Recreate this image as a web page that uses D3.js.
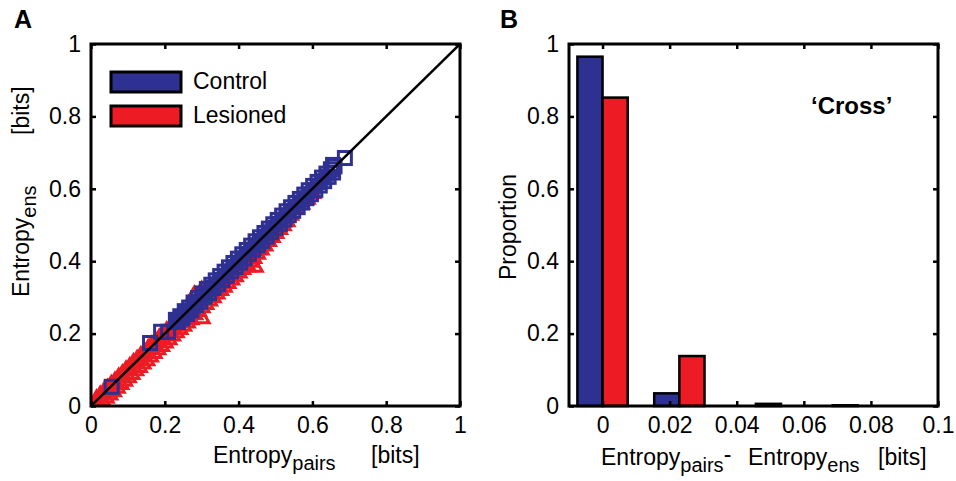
<!DOCTYPE html>
<html><head><meta charset="utf-8">
<script src="https://cdn.jsdelivr.net/npm/d3@7"></script>
<style>
body{margin:0;background:#fff;}
svg{display:block;}
text{font-family:"Liberation Sans",Arial,sans-serif;fill:#000;}
</style></head><body>
<svg id="chart" width="956" height="481"></svg>
<script>
// ---------- DATA ----------
const seriesNames = ["Control", "Lesioned"];
const seriesColors = ["#2e3192", "#ed1c24"];

// Panel A: [Entropy_pairs, Entropy_ens] per recording
const controlPoints = [
 [0.056,0.053],[0.160,0.174],[0.190,0.205],[0.209,0.205],
 [0.230,0.238],[0.236,0.232],[0.242,0.248],[0.248,0.242],[0.254,0.262],[0.260,0.254],[0.266,0.272],[0.272,0.264],
 [0.278,0.286],[0.284,0.278],[0.290,0.298],[0.296,0.288],[0.302,0.311],[0.308,0.302],[0.314,0.323],[0.320,0.312],
 [0.326,0.335],[0.332,0.326],[0.338,0.347],[0.344,0.336],[0.350,0.359],[0.356,0.348],[0.362,0.371],[0.368,0.360],
 [0.374,0.383],[0.380,0.372],[0.386,0.395],[0.392,0.384],[0.398,0.407],[0.404,0.396],[0.410,0.419],[0.416,0.408],
 [0.422,0.431],[0.428,0.420],[0.434,0.443],[0.440,0.432],[0.446,0.455],[0.452,0.444],[0.458,0.466],[0.464,0.456],
 [0.470,0.478],[0.476,0.468],[0.482,0.490],[0.488,0.480],[0.494,0.502],[0.500,0.492],[0.506,0.514],[0.512,0.503],
 [0.518,0.526],[0.524,0.515],[0.530,0.538],[0.536,0.527],[0.542,0.549],[0.548,0.539],[0.554,0.561],[0.560,0.550],
 [0.566,0.572],[0.572,0.562],[0.578,0.584],[0.584,0.574],[0.590,0.596],[0.596,0.585],[0.602,0.608],[0.608,0.597],
 [0.614,0.619],[0.620,0.609],[0.626,0.631],[0.632,0.621],[0.638,0.642],[0.644,0.633],[0.650,0.654],[0.656,0.645],
 [0.660,0.662],[0.656,0.666],[0.688,0.685]
];
const lesionedPoints = [
 [0.015,0.018],[0.020,0.008],[0.025,0.028],[0.030,0.014],[0.035,0.038],[0.040,0.022],[0.045,0.047],[0.050,0.031],
 [0.055,0.058],[0.060,0.040],[0.065,0.067],[0.070,0.050],[0.075,0.078],[0.080,0.060],[0.085,0.087],[0.090,0.069],
 [0.095,0.098],[0.100,0.079],[0.105,0.107],[0.110,0.088],[0.115,0.118],[0.120,0.098],[0.125,0.127],[0.130,0.107],
 [0.135,0.137],[0.140,0.117],[0.145,0.147],[0.150,0.126],[0.155,0.157],[0.160,0.136],[0.165,0.167],[0.170,0.146],
 [0.175,0.177],[0.180,0.156],[0.185,0.186],[0.190,0.165],[0.195,0.196],[0.200,0.175],[0.205,0.206],[0.210,0.184],
 [0.215,0.215],[0.220,0.194],[0.225,0.225],[0.230,0.203],[0.235,0.234],[0.240,0.212],[0.245,0.243],[0.250,0.221],
 [0.255,0.250],[0.260,0.230],[0.265,0.262],[0.270,0.239],[0.280,0.305],[0.300,0.318],
 [0.275,0.265],[0.280,0.253],[0.285,0.275],[0.290,0.262],[0.295,0.285],[0.300,0.272],[0.305,0.295],[0.310,0.281],
 [0.315,0.305],[0.320,0.291],[0.325,0.315],[0.330,0.300],[0.335,0.325],[0.340,0.310],[0.345,0.335],[0.350,0.320],
 [0.355,0.345],[0.360,0.329],[0.365,0.355],[0.370,0.339],[0.375,0.365],[0.380,0.349],[0.385,0.375],[0.390,0.358],
 [0.395,0.385],[0.400,0.368],[0.405,0.395],[0.410,0.378],[0.415,0.405],[0.420,0.388],[0.425,0.415],[0.430,0.398],
 [0.435,0.425],[0.440,0.408],[0.445,0.435],[0.450,0.420],[0.455,0.445],[0.460,0.432],[0.465,0.455],[0.470,0.443],
 [0.475,0.465],[0.480,0.455],[0.485,0.475],[0.490,0.466],[0.495,0.485],[0.500,0.477],[0.505,0.495],[0.510,0.488],
 [0.515,0.505],[0.520,0.499],[0.525,0.515],[0.530,0.510],[0.540,0.528],[0.555,0.543],[0.570,0.558],[0.585,0.572],
 [0.600,0.588],[0.300,0.242],[0.425,0.385],[0.444,0.384]
];

// Panel B: histogram of Entropy_pairs - Entropy_ens
const binCenters = [0, 0.0229, 0.0457, 0.0686];
const controlProportion = [0.965, 0.035, 0, 0];
const lesionedProportion = [0.852, 0.138, 0.006, 0.002];

const ticksA = [0, 0.2, 0.4, 0.6, 0.8, 1];
const tickLabelsA = ["0", "0.2", "0.4", "0.6", "0.8", "1"];
const ticksBx = [0, 0.02, 0.04, 0.06, 0.08, 0.1];
const tickLabelsBx = ["0", "0.02", "0.04", "0.06", "0.08", "0.1"];
const ticksBy = [0, 0.2, 0.4, 0.6, 0.8, 1];
const tickLabelsBy = ["0", "0.2", "0.4", "0.6", "0.8", "1"];

// ---------- DRAW ----------
const svg = d3.select("#chart");
const FS = 23, SUB = 20;

function frameAxes(g, x, y, xt, xl, yt, yl) {
  const [x0, x1] = x.range(), [y0, y1] = y.range();
  const bottom = g.append("g").attr("transform", `translate(0,${y0})`)
    .call(d3.axisBottom(x).tickValues(xt).tickFormat((d,i)=>xl[i]).tickSize(-5).tickSizeOuter(0).tickPadding(11));
  const top = g.append("g").attr("transform", `translate(0,${y1})`)
    .call(d3.axisTop(x).tickValues(xt).tickFormat("").tickSize(-5).tickSizeOuter(0));
  const left = g.append("g").attr("transform", `translate(${x0},0)`)
    .call(d3.axisLeft(y).tickValues(yt).tickFormat((d,i)=>yl[i]).tickSize(-5).tickSizeOuter(0).tickPadding(10));
  const right = g.append("g").attr("transform", `translate(${x1},0)`)
    .call(d3.axisRight(y).tickValues(yt).tickFormat("").tickSize(-5).tickSizeOuter(0));
  [bottom, top, left, right].forEach(a => {
    a.select(".domain").remove();
    a.selectAll(".tick line").attr("stroke", "#000").attr("stroke-width", 2.5);
    a.selectAll(".tick text").attr("font-size", FS).attr("font-family", '"Liberation Sans",Arial,sans-serif').attr("fill", "#000");
  });
  g.append("rect").attr("x", x0).attr("y", y1).attr("width", x1 - x0).attr("height", y0 - y1)
    .attr("fill", "none").attr("stroke", "#000").attr("stroke-width", 3);
}

// Panel A
const xA = d3.scaleLinear([0, 1], [91, 460]);
const yA = d3.scaleLinear([0, 1], [406, 44]);
const gA = svg.append("g");
svg.append("clipPath").attr("id", "clipA").append("rect")
  .attr("x", 91).attr("y", 44).attr("width", 369).attr("height", 362);
const plotA = gA.append("g").attr("clip-path", "url(#clipA)");

const tri = d3.symbol().type(d3.symbolTriangle).size(95);
plotA.append("g").selectAll("path").data(lesionedPoints).join("path")
  .attr("d", tri).attr("transform", d => `translate(${xA(d[0])},${yA(d[1])})`)
  .attr("fill", "none").attr("stroke", seriesColors[1]).attr("stroke-width", 3);
plotA.append("g").selectAll("rect").data(controlPoints).join("rect")
  .attr("x", d => xA(d[0]) - 6.5).attr("y", d => yA(d[1]) - 6.5).attr("width", 13).attr("height", 13)
  .attr("fill", "none").attr("stroke", seriesColors[0]).attr("stroke-width", 3);
plotA.append("line").attr("x1", xA(0)).attr("y1", yA(0)).attr("x2", xA(1)).attr("y2", yA(1))
  .attr("stroke", "#000").attr("stroke-width", 2.5);

frameAxes(gA, xA, yA, ticksA, tickLabelsA, ticksA, tickLabelsA);

// legend
const leg = gA.append("g");
seriesNames.forEach((n, i) => {
  leg.append("rect").attr("x", 111).attr("y", 72 + i * 34).attr("width", 70).attr("height", 20)
    .attr("fill", seriesColors[i]).attr("stroke", "#000").attr("stroke-width", 3);
  leg.append("text").attr("x", 193).attr("y", 89 + i * 34).attr("font-size", FS).text(n);
});

// A labels
svg.append("text").attr("x", 14).attr("y", 28).attr("font-size", 25).attr("font-weight", "bold").text("A");
const xlabA = svg.append("text").attr("x", 213).attr("y", 463).attr("font-size", FS);
xlabA.append("tspan").text("Entropy");
xlabA.append("tspan").attr("dy", 7).attr("font-size", SUB).text("pairs");
xlabA.append("tspan").attr("x", 371).attr("dy", -7).text("[bits]");
const ylabA = svg.append("text").attr("transform", "translate(29,297) rotate(-90)").attr("font-size", FS);
ylabA.append("tspan").text("Entropy");
ylabA.append("tspan").attr("dy", 7).attr("font-size", SUB).text("ens");
ylabA.append("tspan").attr("x", 162).attr("dy", -7).text("[bits]");

// Panel B
const xB = d3.scaleLinear([-0.01, 0.1], [569, 938]);
const yB = d3.scaleLinear([0, 1], [406, 44]);
const gB = svg.append("g");
const barW = 0.0075;
const bars = gB.append("g");
binCenters.forEach((c, i) => {
  [[controlProportion[i], c - barW, 0], [lesionedProportion[i], c, 1]].forEach(([v, x0, s]) => {
    if (v <= 0) return;
    bars.append("rect").attr("x", xB(x0)).attr("y", yB(v)).attr("width", xB(x0 + barW) - xB(x0))
      .attr("height", yB(0) - yB(v)).attr("fill", seriesColors[s]).attr("stroke", "#000").attr("stroke-width", 2.5);
  });
});
frameAxes(gB, xB, yB, ticksBx, tickLabelsBx, ticksBy, tickLabelsBy);

svg.append("text").attr("x", 500).attr("y", 28).attr("font-size", 25).attr("font-weight", "bold").text("B");
svg.append("text").attr("x", 811).attr("y", 114).attr("font-size", 24).attr("font-weight", "bold").text("\u2018Cross\u2019");
svg.append("text").attr("transform", "translate(516,227) rotate(-90)").attr("text-anchor", "middle").attr("font-size", FS).text("Proportion");
const xlabB = svg.append("text").attr("x", 601).attr("y", 465).attr("font-size", FS);
xlabB.append("tspan").text("Entropy");
xlabB.append("tspan").attr("dy", 7).attr("font-size", SUB).text("pairs");
xlabB.append("tspan").attr("dy", -10).text("-");
xlabB.append("tspan").attr("x", 748).attr("dy", 3).text("Entropy");
xlabB.append("tspan").attr("dy", 7).attr("font-size", SUB).text("ens");
xlabB.append("tspan").attr("x", 878).attr("dy", -7).text("[bits]");
</script>
</body></html>
